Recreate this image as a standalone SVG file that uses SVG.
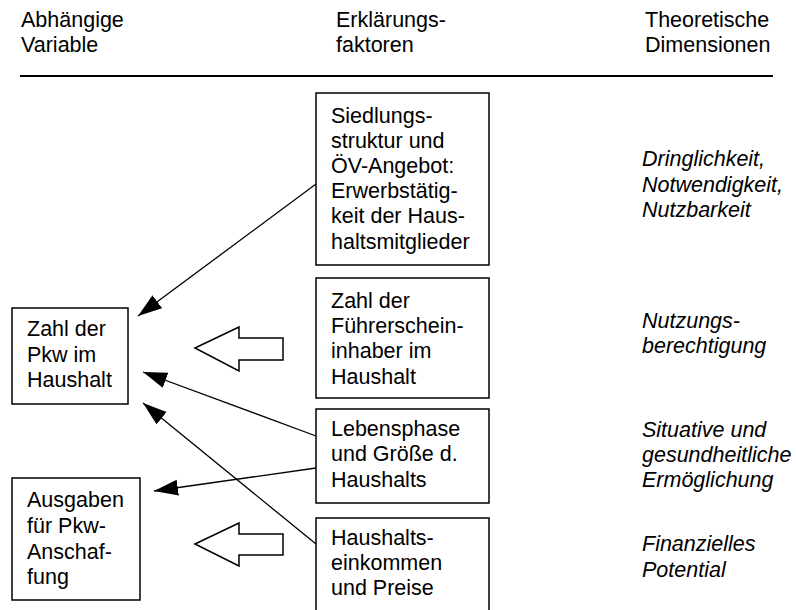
<svg xmlns="http://www.w3.org/2000/svg" width="796" height="610" viewBox="0 0 796 610">
  <style>
    text { font-family: "Liberation Sans", Arial, sans-serif; font-size: 21.5px; fill: #000; }
    .dim { font-style: italic; }
    .box { fill: #fff; stroke: #000; stroke-width: 1.5; }
    .link { fill: none; stroke: #000; stroke-width: 1.3; marker-end: url(#head); }
    .block { fill: #fff; stroke: #000; stroke-width: 1.5; stroke-linejoin: miter; }
  </style>
  <defs>
    <marker id="head" markerUnits="userSpaceOnUse" markerWidth="26" markerHeight="18" refX="24" refY="8" orient="auto" viewBox="0 0 26 18">
      <path d="M0,0 L24,8 L0,16 Z" fill="#000"/>
    </marker>
  </defs>

  <rect width="796" height="610" fill="#fff"/>

  <!-- column headings -->
  <g id="headings">
    <text x="21" y="27">Abhängige</text>
    <text x="21" y="52">Variable</text>
    <text x="336" y="27">Erklärungs-</text>
    <text x="336" y="52">faktoren</text>
    <text x="645" y="27">Theoretische</text>
    <text x="645" y="52">Dimensionen</text>
    <line x1="20" y1="76" x2="773" y2="76" stroke="#000" stroke-width="2"/>
  </g>

  <!-- dependent variables -->
  <g id="pkw-zahl">
    <rect class="box" x="12" y="308" width="116" height="96"/>
    <text x="27" y="336">Zahl der</text>
    <text x="27" y="362">Pkw im</text>
    <text x="27" y="387">Haushalt</text>
  </g>
  <g id="ausgaben">
    <rect class="box" x="12" y="478" width="128" height="122"/>
    <text x="27" y="507">Ausgaben</text>
    <text x="27" y="533">für Pkw-</text>
    <text x="27" y="559">Anschaf-</text>
    <text x="27" y="584">fung</text>
  </g>

  <!-- explanatory factors -->
  <g id="siedlung">
    <rect class="box" x="316" y="93" width="173" height="172"/>
    <text x="331" y="123">Siedlungs-</text>
    <text x="331" y="148">struktur und</text>
    <text x="331" y="173">ÖV-Angebot:</text>
    <text x="331" y="198">Erwerbstätig-</text>
    <text x="331" y="223">keit der Haus-</text>
    <text x="331" y="249">haltsmitglieder</text>
  </g>
  <g id="fuehrerschein">
    <rect class="box" x="316" y="278" width="173" height="120"/>
    <text x="331" y="308">Zahl der</text>
    <text x="331" y="333">Führerschein-</text>
    <text x="331" y="358">inhaber im</text>
    <text x="331" y="384">Haushalt</text>
  </g>
  <g id="lebensphase">
    <rect class="box" x="316" y="409" width="173" height="94"/>
    <text x="331" y="436">Lebensphase</text>
    <text x="331" y="461">und Größe d.</text>
    <text x="331" y="487">Haushalts</text>
  </g>
  <g id="einkommen">
    <rect class="box" x="316" y="518" width="173" height="100"/>
    <text x="331" y="545">Haushalts-</text>
    <text x="331" y="570">einkommen</text>
    <text x="331" y="595">und Preise</text>
  </g>

  <!-- theoretical dimensions -->
  <g id="dimensionen">
    <text class="dim" x="642" y="166">Dringlichkeit,</text>
    <text class="dim" x="642" y="192">Notwendigkeit,</text>
    <text class="dim" x="642" y="217">Nutzbarkeit</text>
    <text class="dim" x="642" y="328">Nutzungs-</text>
    <text class="dim" x="642" y="353">berechtigung</text>
    <text class="dim" x="642" y="437">Situative und</text>
    <text class="dim" x="642" y="462">gesundheitliche</text>
    <text class="dim" x="642" y="487">Ermöglichung</text>
    <text class="dim" x="642" y="551">Finanzielles</text>
    <text class="dim" x="642" y="577">Potential</text>
  </g>

  <!-- connectors -->
  <g id="connectors">
    <line class="link" x1="316" y1="184" x2="138" y2="316"/>
    <line class="link" x1="316" y1="436" x2="143" y2="372"/>
    <line class="link" x1="316" y1="468" x2="154" y2="491"/>
    <line class="link" x1="316" y1="544" x2="143" y2="403"/>
    <polygon class="block" points="195,348 239,327 239,338 283,338 283,360 239,360 239,371"/>
    <polygon class="block" points="195,544 239,523 239,534 283,534 283,555 239,555 239,566"/>
  </g>
</svg>
